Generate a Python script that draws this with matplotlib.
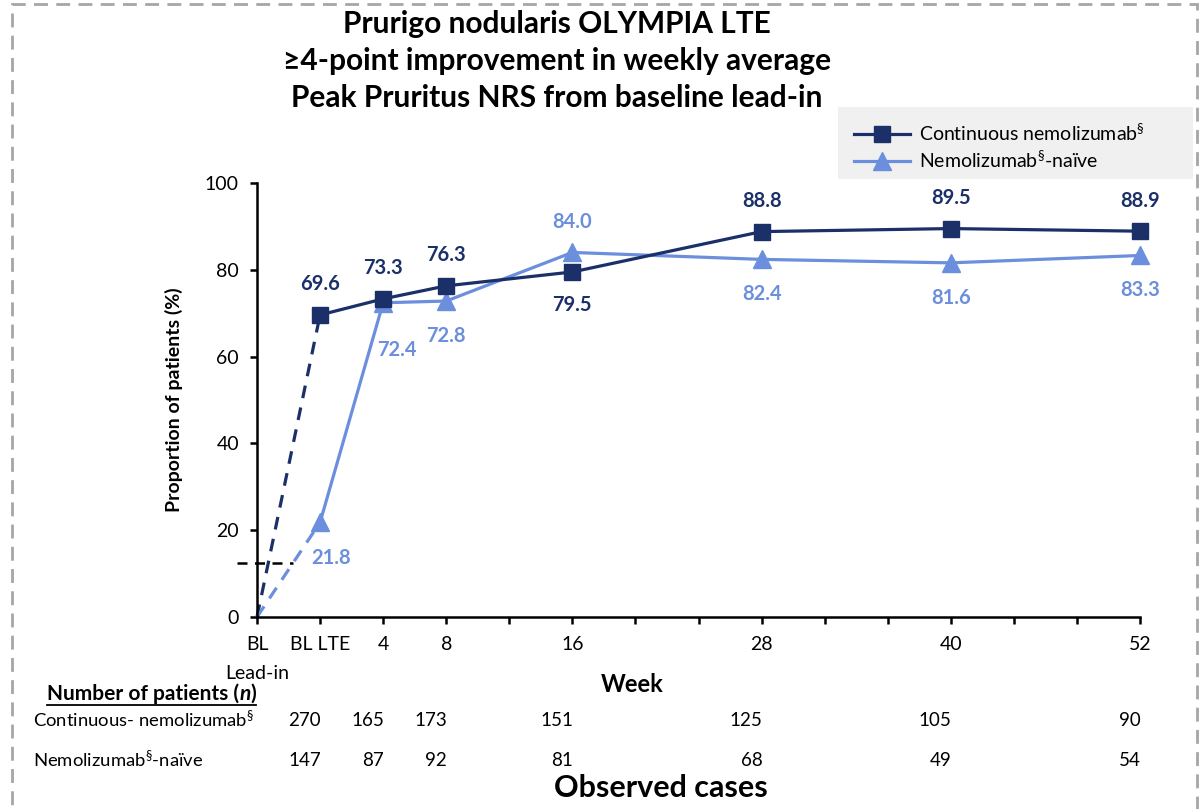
import matplotlib
matplotlib.use('Agg')
import matplotlib.pyplot as plt
from matplotlib.lines import Line2D
from matplotlib.patches import Rectangle

plt.rcParams['font.family'] = ['Lato', 'DejaVu Sans']
plt.rcParams['mathtext.fontset'] = 'custom'
plt.rcParams['mathtext.rm'] = 'Lato'
plt.rcParams['mathtext.it'] = 'Lato:italic'
plt.rcParams['mathtext.bf'] = 'Lato:bold'

# 数据
weeks = [-4, 0, 4, 8, 16, 28, 40, 52]
cont = [0, 69.6, 73.3, 76.3, 79.5, 88.8, 89.5, 88.9]
naive = [0, 21.8, 72.4, 72.8, 84.0, 82.4, 81.6, 83.3]
tick_weeks = list(range(-4, 53, 4))
tick_names = {-4: 'BL', 0: 'BL LTE', 4: '4', 8: '8', 16: '16', 28: '28', 40: '40', 52: '52'}
n_weeks = [0, 4, 8, 16, 28, 40, 52]
n_cont = [270, 165, 173, 151, 125, 105, 90]
n_naive = [147, 87, 92, 81, 68, 49, 54]

navy = '#1B2F69'
light = '#6B8FDD'
W, H = 1203, 809

fig = plt.figure(figsize=(W / 100, H / 100), dpi=100)
ax = fig.add_axes([257 / W, 1 - 617 / H, (1140 - 257) / W, (617 - 183) / H])

# 虚线段 (BL -> BL LTE)
ax.plot(weeks[:2], cont[:2], color=navy, lw=2.3, ls=(0, (4, 3)), clip_on=False)
ax.plot(weeks[:2], naive[:2], color=light, lw=2.3, ls=(0, (4, 3)), clip_on=False)
# 实线段
ax.plot(weeks[1:], naive[1:], color=light, lw=2.3, marker='^', ms=12.5, clip_on=False, zorder=3)
ax.plot(weeks[1:], cont[1:], color=navy, lw=2.3, marker='s', ms=11.5, clip_on=False, zorder=4)

# 纵轴上的短虚线
ax.plot([-5.3, -1.7], [12.5, 12.5], color='black', lw=1.8, ls=(0, (4, 3)), clip_on=False)

# 数值标签
for i in range(1, len(weeks)):
    dy = -24 if i == 4 else 22
    ax.annotate(f'{cont[i]:.1f}', (weeks[i], cont[i]), xytext=(0, dy), textcoords='offset points',
                ha='center', va='center', color=navy, fontsize=14.5, fontweight='bold')
    dx, dy = 0, -25
    if i == 4:
        dy = 22
    if i == 1:
        dx, dy = 8, -26
    if i == 2:
        dx, dy = 10, -34
    ax.annotate(f'{naive[i]:.1f}', (weeks[i], naive[i]), xytext=(dx, dy), textcoords='offset points',
                ha='center', va='center', color=light, fontsize=14.5, fontweight='bold')

ax.set_xlim(-4, 52)
ax.set_ylim(0, 100)
ax.set_xticks(tick_weeks)
ax.set_xticklabels([tick_names.get(t, '') for t in tick_weeks])
ax.set_yticks(range(0, 101, 20))
for s in ['top', 'right']:
    ax.spines[s].set_visible(False)
for s in ['left', 'bottom']:
    ax.spines[s].set_linewidth(1.8)
ax.tick_params(axis='both', length=5, width=1.8, labelsize=14)
ax.tick_params(axis='x', pad=9)
ax.tick_params(axis='y', pad=8)
ax.set_ylabel('Proportion of patients (%)', fontsize=14, fontweight='bold', labelpad=16)
ax.text(-4, -0.13, 'Lead-in', transform=ax.get_xaxis_transform(), ha='center', va='center', fontsize=14)

# 标题
title = ['Prurigo nodularis OLYMPIA LTE',
         '≥4-point improvement in weekly average',
         'Peak Pruritus NRS from baseline lead-in']
for k, t in enumerate(title):
    fig.text(557 / W, 1 - (24 + 37 * k) / H, t, ha='center', va='center', fontsize=21.5, fontweight='bold')

# 图例 (灰色底)
fig.add_artist(Rectangle((838 / W, 1 - 179 / H), (1193 - 838) / W, 72 / H, transform=fig.transFigure,
                         facecolor='#F0F0F0', edgecolor='none', zorder=0))
handles = [Line2D([], [], color=navy, lw=2.3, marker='s', ms=11.5),
           Line2D([], [], color=light, lw=2.3, marker='^', ms=12.5)]
leg = fig.legend(handles, ['Continuous nemolizumab$^{§}$', 'Nemolizumab$^{§}$-naïve'],
                 loc='upper left', bbox_to_anchor=(836 / W, 1 - 105 / H), fontsize=14,
                 frameon=False, handlelength=2.9, handletextpad=0.45, labelspacing=0.3)

# 横轴标题与表格
fig.text(632 / W, 1 - 684 / H, 'Week', ha='center', va='center', fontsize=17, fontweight='bold')
fig.text(661 / W, 1 - 788 / H, 'Observed cases', ha='center', va='center', fontsize=22, fontweight='bold')
fig.text(33 / W, 1 - 720 / H, 'Continuous- nemolizumab$^{§}$', ha='left', va='center', fontsize=13.3)
fig.text(33 / W, 1 - 760 / H, 'Nemolizumab$^{§}$-naïve', ha='left', va='center', fontsize=13.3)
row_y = [1 - 720 / H, 1 - 760 / H]
for wk, a, b in zip(n_weeks, n_cont, n_naive):
    xf = ax.transData.transform((wk, 0))[0] / W
    fig.text(xf + 1 / W, row_y[0], str(a), ha='right', va='center', fontsize=13.5)
    fig.text(xf + 1 / W, row_y[1], str(b), ha='right', va='center', fontsize=13.5)

# "Number of patients (n)" 加下划线
fig.canvas.draw()
r = fig.canvas.get_renderer()
t1 = fig.text(47 / W, 1 - 694 / H, 'Number of patients (', ha='left', va='center', fontsize=15, fontweight='bold')
e1 = t1.get_window_extent(r)
t2 = fig.text(e1.x1 / W, 1 - 694 / H, 'n', ha='left', va='center', fontsize=15, fontweight='bold', style='italic')
e2 = t2.get_window_extent(r)
t3 = fig.text(e2.x1 / W, 1 - 694 / H, ')', ha='left', va='center', fontsize=15, fontweight='bold')
e3 = t3.get_window_extent(r)
fig.add_artist(Line2D([e1.x0 / W, e3.x1 / W], [(e1.y0 - 1) / H, (e1.y0 - 1) / H], color='black', lw=1.3))

# 外框虚线
fig.add_artist(Rectangle((12 / W, -0.05), (1197 - 12) / W, 1.05 - 4 / H, transform=fig.transFigure,
                         fill=False, edgecolor='#A6A6A6', lw=2, ls=(0, (5, 3))))

fig.savefig('out.png', dpi=100)
